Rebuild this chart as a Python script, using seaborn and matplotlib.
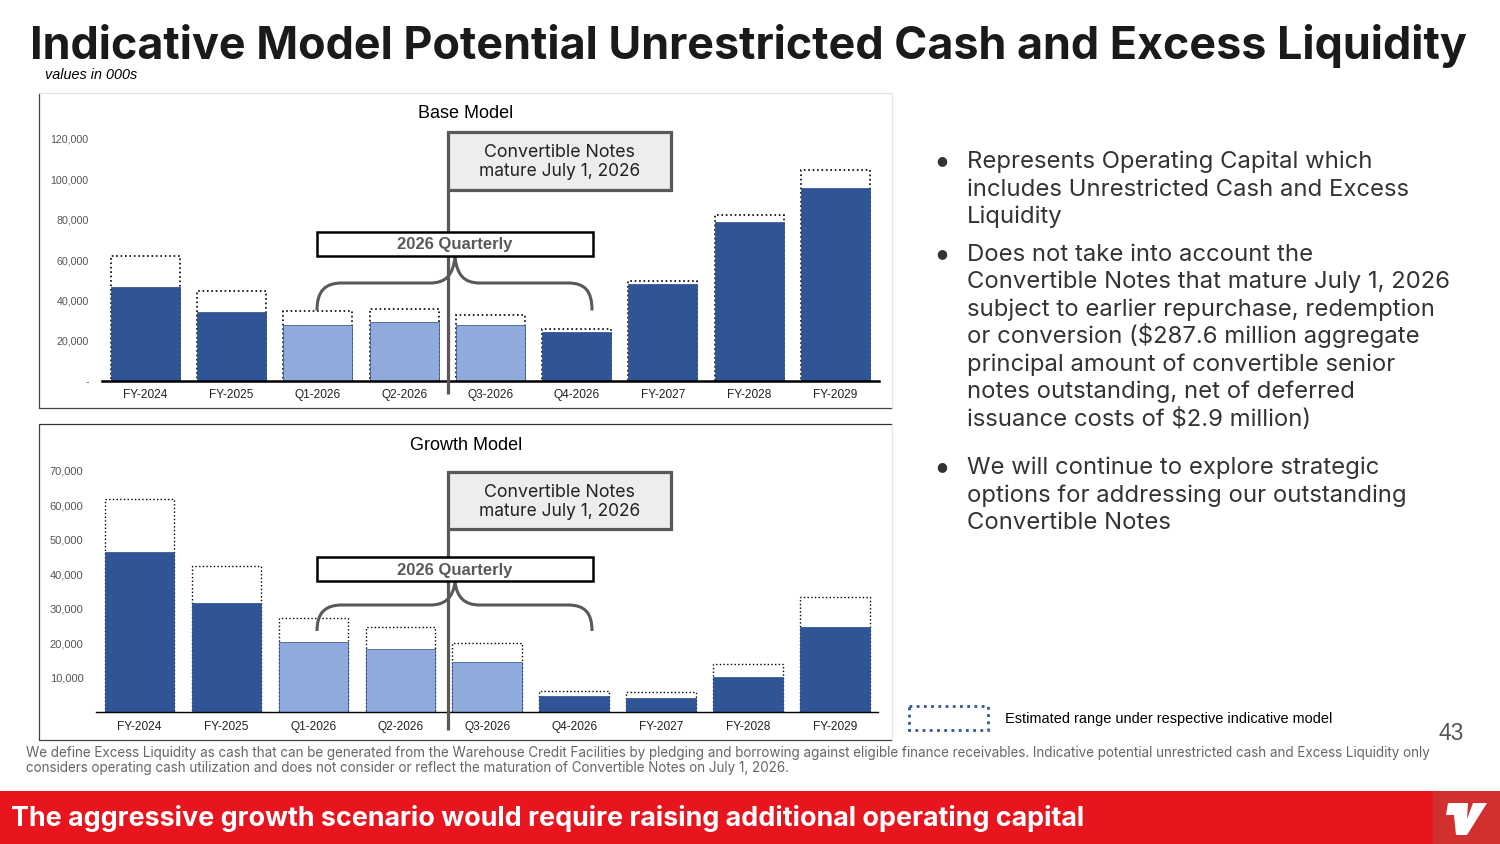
import numpy as np
import pandas as pd
import matplotlib
matplotlib.use("Agg")
import matplotlib.pyplot as plt
from matplotlib.patches import Rectangle, PathPatch, Polygon
from matplotlib.path import Path
import seaborn as sns

# values in 000s
periods = ["FY-2024", "FY-2025", "Q1-2026", "Q2-2026", "Q3-2026", "Q4-2026", "FY-2027", "FY-2028", "FY-2029"]
base_low = [46500, 34100, 28000, 29300, 27800, 24200, 48200, 78800, 95800]
base_high = [62200, 44800, 34600, 35600, 32900, 26000, 49800, 82100, 104400]
growth_low = [46400, 31800, 20500, 18300, 14600, 4800, 4200, 10300, 24800]
growth_high = [61800, 42500, 27200, 24600, 20000, 6200, 5800, 13900, 33400]
base_ticks = [0, 20000, 40000, 60000, 80000, 100000, 120000]
growth_ticks = [10000, 20000, 30000, 40000, 50000, 60000, 70000]

title = "Indicative Model Potential Unrestricted Cash and Excess Liquidity"
bullets = [
    ["Represents Operating Capital which", "includes Unrestricted Cash and Excess", "Liquidity"],
    ["Does not take into account the", "Convertible Notes that mature July 1, 2026", "subject to earlier repurchase, redemption",
     "or conversion ($287.6 million aggregate", "principal amount of convertible senior", "notes outstanding, net of deferred",
     "issuance costs of $2.9 million)"],
    ["We will continue to explore strategic", "options for addressing our outstanding", "Convertible Notes"],
]
bullet_y = [[160, 188, 215], [253, 280, 308, 335, 363, 390, 418], [466, 494, 521]]
footnote = ["We define Excess Liquidity as cash that can be generated from the Warehouse Credit Facilities by pledging and borrowing against eligible finance receivables. Indicative potential unrestricted cash and Excess Liquidity only",
            "considers operating cash utilization and does not consider or reflect the maturation of Convertible Notes on July 1, 2026."]

DARK = "#2F5597"
LIGHT = "#8FAADC"
GREY = "#595959"
HEAD = "Inter"
W, H = 1500, 844
palette = [DARK, DARK, LIGHT, LIGHT, LIGHT, DARK, DARK, DARK, DARK]

sns.set_theme(style="white")
plt.rcParams["font.family"] = "Liberation Sans"

fig = plt.figure(figsize=(15, 8.44), dpi=100)


def px_axes(left, right, top, bottom):
    return fig.add_axes([left / W, 1 - bottom / H, (right - left) / W, (bottom - top) / H])


def draw_bars(ax, low, high, ticks, ymax, labels, dot_lw, y_size, y_pad, x_pad):
    df = pd.DataFrame({"period": periods, "low": low, "high": high})
    sns.barplot(data=df, x="period", y="high", color="white", edgecolor="black", linewidth=dot_lw,
                linestyle=":", width=0.8, ax=ax)
    sns.barplot(data=df, x="period", y="low", hue="period", palette=palette, legend=False,
                edgecolor="#2A4A80", linewidth=0.5, width=0.8, saturation=1, ax=ax)
    ax.set_xlim(-0.5, 8.5)
    ax.set_ylim(0, ymax)
    ax.set_xlabel("")
    ax.set_ylabel("")
    ax.set_yticks(ticks, labels)
    ax.tick_params(axis="y", length=0, labelsize=y_size, labelcolor="#555555", pad=y_pad)
    ax.tick_params(axis="x", length=0, labelsize=8.6, labelcolor="#222222", pad=x_pad)
    sns.despine(ax=ax, left=True)
    ax.patch.set_alpha(0)


ax_base = px_axes(102.3, 878.5, 139, 381)
draw_bars(ax_base, base_low, base_high, base_ticks, 120000, ["-"] + [f"{t:,}" for t in base_ticks[1:]], 1.2, 7.7, 9.8, 5.6)
ax_base.spines["bottom"].set_linewidth(1.8)
ax_base.spines["bottom"].set_color("black")

ax_growth = px_axes(96, 878.5, 471, 712.2)
draw_bars(ax_growth, growth_low, growth_high, growth_ticks, 70000, [f"{t:,}" for t in growth_ticks], 1.0, 8.0, 9.1, 6.2)
ax_growth.spines["bottom"].set_linewidth(1.0)
ax_growth.spines["bottom"].set_color("black")

# slide furniture is placed in pixel coordinates on a full-figure overlay
ov = fig.add_axes([0, 0, 1, 1], zorder=5)
ov.set_xlim(0, W)
ov.set_ylim(H, 0)
ov.axis("off")
ov.patch.set_alpha(0)

ov.text(30, 45.5, title, family=HEAD, weight="bold", fontsize=32.3, color="#1A1A1A", va="center")
ov.text(45, 75, "values in 000s", style="italic", fontsize=10.4, color="black", va="center")

# panel frames
for top, bottom, top_col in [(93, 408, "#E4E4E4"), (423.5, 740, "#333333")]:
    ov.plot([39, 39], [top, bottom], color="#444444", lw=0.9)
    ov.plot([39, 892], [bottom, bottom], color="#444444", lw=0.9)
    ov.plot([39, 892], [top, top], color=top_col, lw=0.9)
    ov.plot([892, 892], [top, bottom], color="#E4E4E4", lw=0.9)

ov.text(466, 114, "Base Model", fontsize=13, color="black", ha="center", va="center")
ov.text(466, 446, "Growth Model", fontsize=13, color="black", ha="center", va="center")


def brace(top, mid, bottom):
    left = Path([(317, bottom), (317, mid + 8), (325, mid), (342, mid), (430, mid), (446, mid), (453, mid - 8), (455, top)],
                [Path.MOVETO, Path.CURVE4, Path.CURVE4, Path.CURVE4, Path.LINETO, Path.CURVE4, Path.CURVE4, Path.CURVE4])
    right = Path([(455, top), (457, mid - 8), (464, mid), (480, mid), (568, mid), (585, mid), (592, mid + 8), (592, bottom)],
                 [Path.MOVETO, Path.CURVE4, Path.CURVE4, Path.CURVE4, Path.LINETO, Path.CURVE4, Path.CURVE4, Path.CURVE4])
    for p in (left, right):
        ov.add_patch(PathPatch(p, fill=False, edgecolor=GREY, lw=2.2, capstyle="butt", zorder=2))


for box_top, box_bot, line_end, q_top, q_bot, b_mid, b_end in [
    (132, 190, 394, 232, 256, 283, 310.5),
    (472, 529, 730, 557, 581, 605, 631),
]:
    ov.plot([448, 448], [box_bot, line_end], color=GREY, lw=2.3, solid_capstyle="butt", zorder=2)
    ov.add_patch(Rectangle((448, box_top), 223, box_bot - box_top, facecolor="#EDEDED", edgecolor=GREY, lw=2.3, zorder=3))
    ov.text(559.5, box_top + 20.5, "Convertible Notes", family=HEAD, fontsize=12.8, color="#222222", ha="center", va="center", zorder=4)
    ov.text(559.5, box_top + 40, "mature July 1, 2026", family=HEAD, fontsize=12.5, color="#222222", ha="center", va="center", zorder=4)
    brace(q_bot + 1, b_mid, b_end)
    ov.add_patch(Rectangle((317, q_top), 276, q_bot - q_top, facecolor="white", edgecolor="black", lw=1.8, zorder=3))
    ov.text(455, (q_top + q_bot) / 2 + 1, "2026 Quarterly", weight="bold", fontsize=12, color=GREY, ha="center", va="center", zorder=4)

# bullets, on a shared baseline so brackets and descenders do not shift a line
for lines, ys in zip(bullets, bullet_y):
    ov.text(942, ys[0] + 1, "\u25cf", family="DejaVu Sans", fontsize=9, color="#333333", ha="center", va="center")
    for line, y in zip(lines, ys):
        ov.text(967, y + 8, line, family=HEAD, fontsize=17.2, color="#333333", va="baseline")

# legend swatch and page number
ov.add_patch(Rectangle((909, 705.5), 78.5, 24, facecolor="none", edgecolor=DARK, lw=2, linestyle=(0, (1, 1.6))))
ov.text(1005, 719, "Estimated range under respective indicative model", fontsize=10.45, color="black", va="center")
ov.text(1451.5, 733.5, "43", fontsize=16.5, color="#555555", ha="center", va="center")

ov.text(26, 753, footnote[0], family=HEAD, fontsize=9.72, color="#666666", va="center")
ov.text(26, 768, footnote[1], family=HEAD, fontsize=9.72, color="#666666", va="center")

# footer band and logo
ov.add_patch(Rectangle((0, 791), W, 53, facecolor="#E8151F", edgecolor="none"))
ov.add_patch(Rectangle((1433, 791), 67, 53, facecolor="#D2302E", edgecolor="none"))
ov.add_patch(Polygon([(1448, 803), (1468, 803), (1467, 819), (1473, 803), (1487, 803), (1467, 835), (1456, 835), (1454, 815), (1446, 815)],
                     facecolor="white", edgecolor="none"))
ov.text(11, 819, "The aggressive growth scenario would require raising additional operating capital",
        family=HEAD, weight="bold", fontsize=19.4, color="white", va="center")

fig.savefig("out.png", dpi=100)
